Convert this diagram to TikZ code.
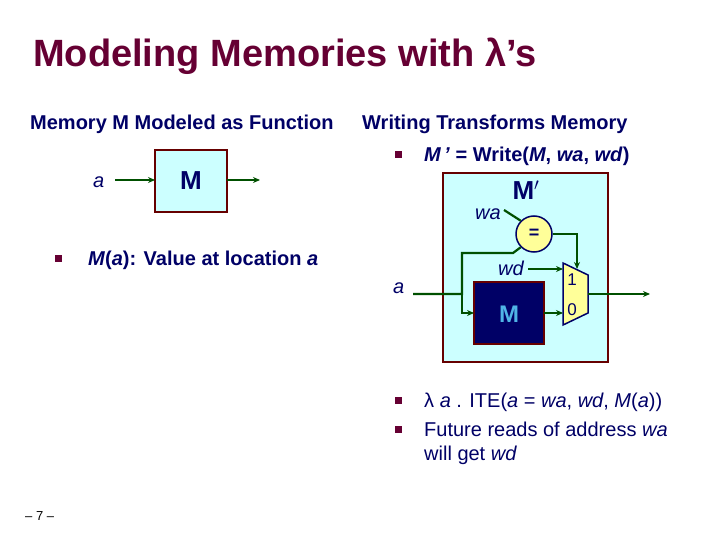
\documentclass[tikz,border=0pt]{standalone}
\usepackage{fontspec}
\setmainfont{Liberation Sans}
\usetikzlibrary{calc,arrows.meta}
\definecolor{titlered}{RGB}{102,0,51}
\definecolor{textblue}{RGB}{0,0,102}
\definecolor{wiregreen}{RGB}{0,80,0}
\definecolor{boxcyan}{RGB}{204,255,255}
\definecolor{boxedge}{RGB}{102,0,0}
\definecolor{gateyellow}{RGB}{255,255,153}
\definecolor{memnavy}{RGB}{0,0,102}
\definecolor{memtext}{RGB}{80,180,230}
\tikzset{
  txt/.style={anchor=base west,text=textblue,font=\fontsize{20}{23}\selectfont\bfseries,inner sep=0pt},
  plain/.style={anchor=base west,text=textblue,font=\fontsize{20}{23}\selectfont,inner sep=0pt},
  lbl/.style={anchor=base west,text=textblue,font=\fontsize{20}{23}\selectfont\itshape,inner sep=0pt},
  bul/.style={fill=titlered,minimum size=7pt,inner sep=0pt},
  wire/.style={draw=wiregreen,line width=2.2pt},
  warr/.style={wire,-{Stealth[length=7pt,width=6pt]}},
  mbox/.style={draw=boxedge,line width=2.2pt,fill=boxcyan},
}
\begin{document}
\begin{tikzpicture}[x=1pt,y=-1pt]
\useasboundingbox (0,0) rectangle (720,540);
% title
\node[anchor=base west,text=titlered,font=\fontsize{38}{44}\selectfont\bfseries,inner sep=0pt] (title) at (33,67) {Modeling Memories with λ’s};
\node[txt] (lhead) at (30,130) {Memory M Modeled as Function};
\node[txt] (rhead) at (362,130) {Writing Transforms Memory};
% left hand
\draw[mbox] (155,150) rectangle (227,212);
\node[text=textblue,font=\fontsize{26}{30}\selectfont\bfseries] (m) at (191,181) {M};
\node[lbl] (la) at (93,188) {a};
\coordinate (lin) at (115,180);
\coordinate (lout) at (260,180);
\draw[warr] (lin) -- (155,180);
\draw[warr] (227,180) -- (lout);
\node[bul] (b1) at (58,258) {};
\node[txt] (mval) at (88,265) {\textit{M}(\textit{a}): Value at location \textit{a}};
% right hand
\node[bul] (b2) at (398,155) {};
\node[txt] (write) at (424,162) {\textit{M\,'} = Write(\textit{M}, \textit{wa}, \textit{wd})};
\draw[mbox] (443,173) rectangle (608,362);
\node[text=textblue,font=\fontsize{26}{30}\selectfont\bfseries] (mp) at (526,190) {M$'$};
\draw[draw=boxedge,line width=2.2pt,fill=memnavy] (474,282) rectangle (544,344);
\node[text=memtext,font=\fontsize{24}{28}\selectfont\bfseries] (mi) at (509,314) {M};
\node[circle,draw=textblue,line width=1.5pt,fill=gateyellow,minimum size=36pt,inner sep=0pt,font=\bfseries\fontsize{18}{20}\selectfont,text=textblue] (eq) at (534,234) {=};
\draw[draw=textblue,line width=1.5pt,fill=gateyellow] (563,263) -- (588,275) -- (588,313) -- (563,325) -- cycle;
\node[text=textblue,font=\fontsize{17}{19}\selectfont] (one) at (572,280) {1};
\node[text=textblue,font=\fontsize{17}{19}\selectfont] (zero) at (572,310) {0};
\node[lbl] (ra) at (393,293) {a};
\node[lbl] (wa) at (475,220) {wa};
\node[lbl] (wd) at (498,275) {wd};
\coordinate (rin) at (413,294);
\coordinate (rout) at (650,294);
\coordinate (jn) at (462,294);
\draw[wire] (rin) -- (jn) -- (462,253) -- (513,253) -- (eq.south west);
\draw[warr] (jn) -- (462,313) -- (474,313);
\draw[wire] (504,210) -- (eq.north west);
\draw[warr] (eq.east) -- (577,234) -- (577,269);
\draw[warr] (528,269) -- (563,269);
\draw[warr] (544,313) -- (563,313);
\draw[warr] (588,294) -- (rout);
\node[bul] (b3) at (398,400) {};
\node[plain] (ite) at (424,407) {λ \textit{a} . ITE(\textit{a} = \textit{wa}, \textit{wd}, \textit{M}(\textit{a}))};
\node[bul] (b4) at (398,429) {};
\node[plain] (fut) at (424,436) {Future reads of address \textit{wa}};
\node[plain] (get) at (424,460) {will get \textit{wd}};
\node[anchor=base west,text=black,font=\fontsize{13}{15}\selectfont,inner sep=0pt] (pg) at (25,520) {– 7 –};
\end{tikzpicture}
\end{document}
